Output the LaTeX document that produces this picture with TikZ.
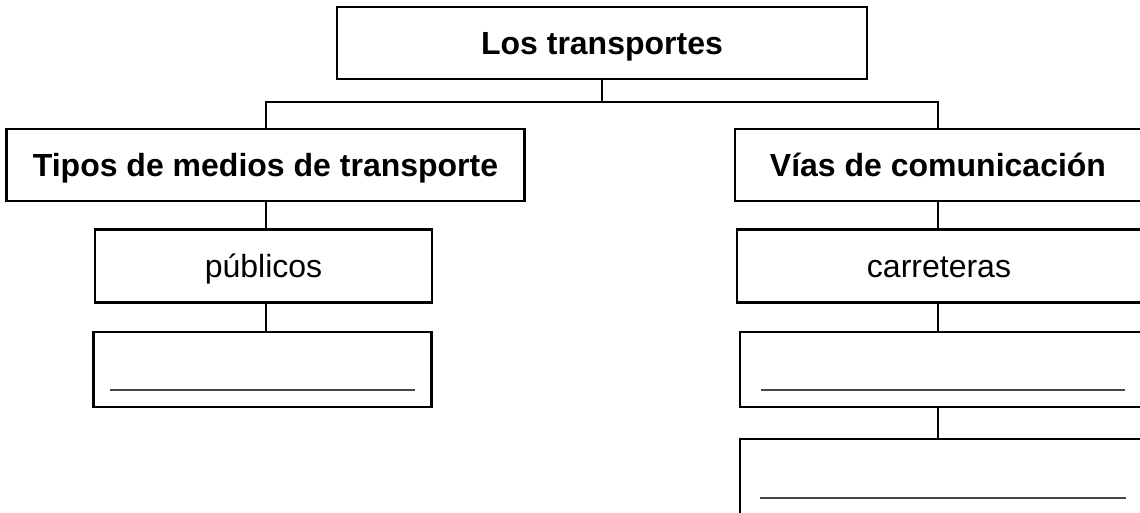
\documentclass[tikz,border=0pt]{standalone}
\usepackage{fontspec}
\setmainfont{Liberation Sans}
\usetikzlibrary{calc}
\begin{document}
\begin{tikzpicture}[x=1pt,y=-1pt,
  box/.style={draw=black, line width=2.2pt, inner sep=0pt, text height=23pt, text depth=0pt,
              font=\fontsize{32}{38}\selectfont, align=center},
  headbox/.style={box, font=\fontsize{32}{38}\selectfont\bfseries},
  link/.style={draw=black, line width=2pt},
  blankline/.style={draw=black!72, line width=1.8pt}]
\useasboundingbox (0,0) rectangle (1140,512);
\fill[white] (0,0) rectangle (1140,512);
\clip (0,0) rectangle (1140,512);

\node[headbox, minimum width=530, minimum height=72] (top) at (602,43) {Los transportes};
\node[headbox, minimum width=518, minimum height=72] (tipos) at (265.5,165) {Tipos de medios de transporte};
\node[headbox, minimum width=406, minimum height=72] (vias) at (938,165) {Vías de comunicación};
\node[box, minimum width=337, minimum height=73] (pub) at (263.5,266) {públicos};
\node[box, minimum width=338, minimum height=75] (lb) at (262.5,369.5) {};
\node[box, minimum width=404, minimum height=73] (car) at (939,266) {carreteras};
\node[box, minimum width=404, minimum height=75] (rb1) at (942,369.5) {};
\node[box, minimum width=404, minimum height=76] (rb2) at (942,477) {};

\coordinate (j) at (602,102);
\draw[link] (top.south) -- (j);
\draw[link] (tipos.north) |- (j) -| (vias.north);
\draw[link] (tipos.south) -- (tipos.south |- pub.north);
\draw[link] (tipos.south |- pub.south) -- (tipos.south |- lb.north);
\draw[link] (vias.south) -- (vias.south |- car.north);
\draw[link] (vias.south |- car.south) -- (vias.south |- rb1.north);
\draw[link] (vias.south |- rb1.south) -- (vias.south |- rb2.north);

\draw[blankline] ($(lb.north west)+(18,59)$) -- ($(lb.north east)+(-18,59)$);
\draw[blankline] ($(rb1.north west)+(22,59)$) -- ($(rb1.north west)+(386,59)$);
\draw[blankline] ($(rb2.north west)+(21,60)$) -- ($(rb2.north west)+(387,60)$);
\end{tikzpicture}
\end{document}
